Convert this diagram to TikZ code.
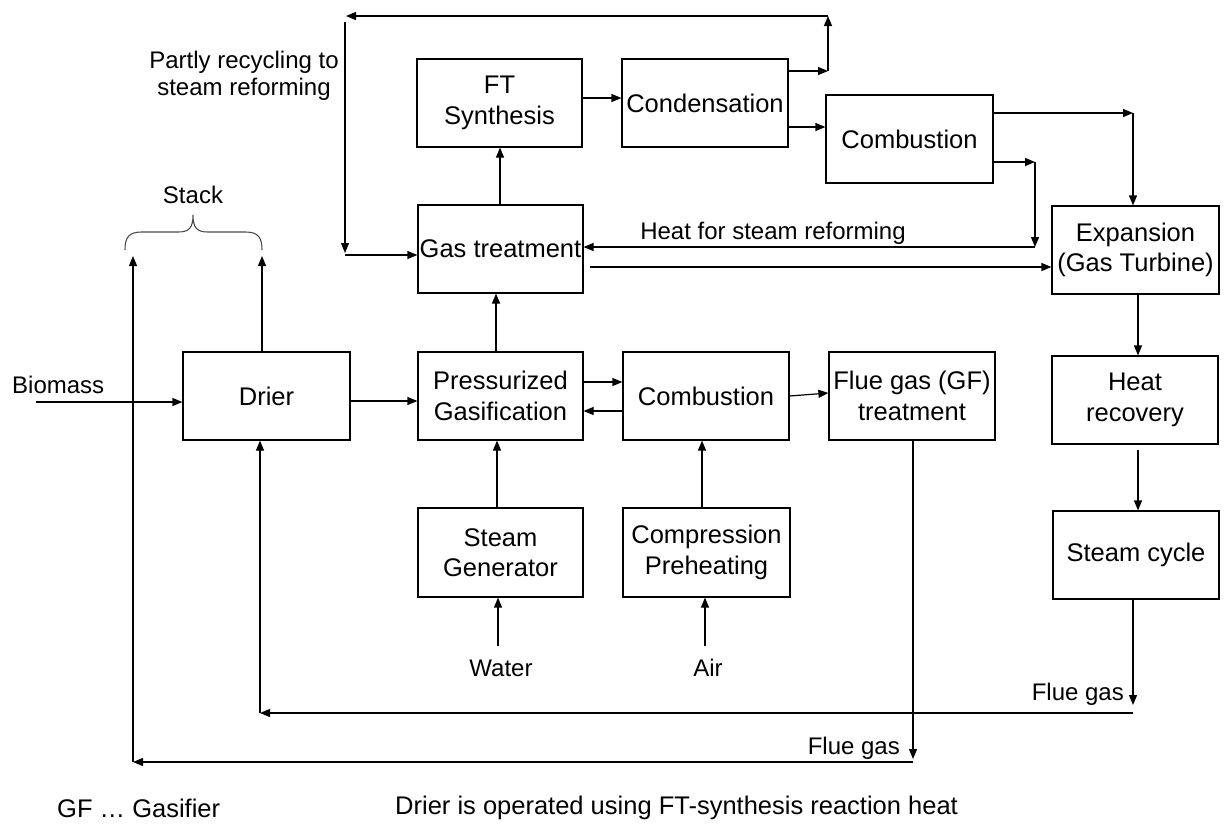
\documentclass[tikz,border=0pt]{standalone}
\usepackage{fontspec}
\setmainfont{Liberation Sans}
\usetikzlibrary{arrows.meta}
\begin{document}
\begin{tikzpicture}[x=1pt,y=-1pt,
  box/.style={draw, line width=1.2pt, minimum width=166pt, minimum height=88pt, inner sep=0pt, align=center, font=\fontsize{25.5}{30.5}\selectfont},
  lbl/.style={inner sep=0pt, font=\fontsize{24}{27}\selectfont},
  note/.style={inner sep=0pt, font=\fontsize{25.5}{30}\selectfont},
  flow/.style={line width=1.2pt, -{Triangle[length=10pt,width=8pt]}},
  bracestyle/.style={line width=1.1pt, draw=black!70}]
\useasboundingbox (0,0) rectangle (1228,823);

% boxes
\node[box, minimum width=165pt] (ft) at (499.5,103) {FT\\Synthesis};
\node[box] (cond) at (705,103) {Condensation};
\node[box, minimum width=167pt] (comb1) at (909.5,139) {Combustion};
\node[box, minimum width=165pt] (gt) at (500.5,249) {Gas treatment};
\node[box, minimum width=167pt] (exp) at (1135.5,250) {Expansion\\(Gas Turbine)};
\node[box, minimum width=167pt] (drier) at (266.5,396) {Drier};
\node[box, minimum width=165pt] (gas) at (500.5,396) {Pressurized\\Gasification};
\node[box] (comb2) at (706,396) {Combustion};
\node[box] (flue) at (912,396) {Flue gas (GF)\\treatment};
\node[box] (heat) at (1135,400) {Heat\\recovery};
\node[box, minimum width=165pt, minimum height=89pt] (sg) at (500.5,552.5) {Steam\\Generator};
\node[box, minimum width=167pt, minimum height=89pt] (cp) at (706.5,552.5) {Compression\\Preheating};
\node[box] (sc) at (1136,555) {Steam cycle};

% labels
\node[lbl, align=center] (partly) at (244,76) {Partly recycling to\\steam reforming};
\node[lbl] (stack) at (193,195) {Stack};
\node[lbl, anchor=west] (biomass) at (12,385) {Biomass};
\node[lbl] (heatlbl) at (773,233) {Heat for steam reforming};
\node[lbl] (water) at (501,668) {Water};
\node[lbl] (air) at (708,668) {Air};
\node[lbl, anchor=east] (fg1) at (1124,694) {Flue gas};
\node[lbl, anchor=east] (fg2) at (900,748) {Flue gas};
\node[note, anchor=west] (gf) at (57,808) {GF … Gasifier};
\node[note, anchor=west] (drnote) at (395,808) {Drier is operated using FT-synthesis reaction heat};

% coordinates
\coordinate (c1) at (828,71);
\coordinate (c2) at (828,16);
\coordinate (c3) at (346,16);
\coordinate (c4) at (345,22);
\coordinate (c5) at (345,253);
\coordinate (c6) at (345,255);
\coordinate (c7) at (1133,113);
\coordinate (c8) at (1035,162);
\coordinate (c9) at (1035,247);
\coordinate (c10) at (590,267);
\coordinate (c11) at (1133,705);
\coordinate (c12) at (1133,713);
\coordinate (c13) at (260,713);
\coordinate (c14) at (913,759);
\coordinate (c15) at (913,762);
\coordinate (c16) at (133,762);
\coordinate (c17) at (133,256);
\coordinate (c18) at (262,256);
\coordinate (c19) at (36,402);
\coordinate (cw) at (498,646);
\coordinate (ca) at (705,646);
\coordinate (hr1) at (1138,450);

% connectors
\draw[flow] (gt.north -| 500,0) -- (ft.south -| 500,0);
\draw[flow] (ft.east |- 0,98) -- (cond.west |- 0,98);
\draw[flow] (cond.east |- c1) -- (c1);
\draw[flow] (c1) -- (c2);
\draw[flow] (c2) -- (c3);
\draw[flow] (c4) -- (c5);
\draw[flow] (c6) -- (gt.west |- c6);
\draw[flow] (cond.east |- 0,127) -- (comb1.west |- 0,127);
\draw[flow] (comb1.east |- c7) -- (c7);
\draw[flow] (c7) -- (exp.north -| c7);
\draw[flow] (comb1.east |- c8) -- (c8);
\draw[flow] (c8) -- (c9);
\draw[flow] (c9) -- (gt.east |- c9);
\draw[flow] (c10) -- (exp.west |- c10);
\draw[flow] (exp.south -| hr1) -- (heat.north -| hr1);
\draw[flow] (hr1) -- (sc.north -| hr1);
\draw[flow] (sc.south -| c11) -- (c11);
\draw[flow] (c12) -- (c13);
\draw[flow] (c13) -- (drier.south -| c13);
\draw[flow] (flue.south -| c14) -- (c14);
\draw[flow] (c15) -- (c16);
\draw[flow] (c16) -- (c17);
\draw[flow] (drier.north -| c18) -- (c18);
\draw[flow] (c19) -- (drier.west |- c19);
\draw[flow] (drier.east |- 0,401) -- (gas.west |- 0,401);
\draw[flow] (gas.east |- 0,382) -- (comb2.west |- 0,382);
\draw[flow] (comb2.west |- 0,411) -- (gas.east |- 0,411);
\draw[flow] (comb2.east |- 0,396) -- (flue.west |- 0,393);
\draw[flow] (gas.north -| 496,0) -- (gt.south -| 496,0);
\draw[flow] (sg.north -| 497,0) -- (gas.south -| 497,0);
\draw[flow] (cp.north -| 702,0) -- (comb2.south -| 702,0);
\draw[flow] (cw) -- (sg.south -| cw);
\draw[flow] (ca) -- (cp.south -| ca);

% stack brace
\draw[bracestyle] (125,250) .. controls (125,237) and (129,232) .. (142,232)
  -- (178,232) .. controls (189,232) and (193,228) .. (193,215)
  .. controls (193,228) and (197,232) .. (208,232)
  -- (245,232) .. controls (258,232) and (262,237) .. (262,250);
\end{tikzpicture}
\end{document}
